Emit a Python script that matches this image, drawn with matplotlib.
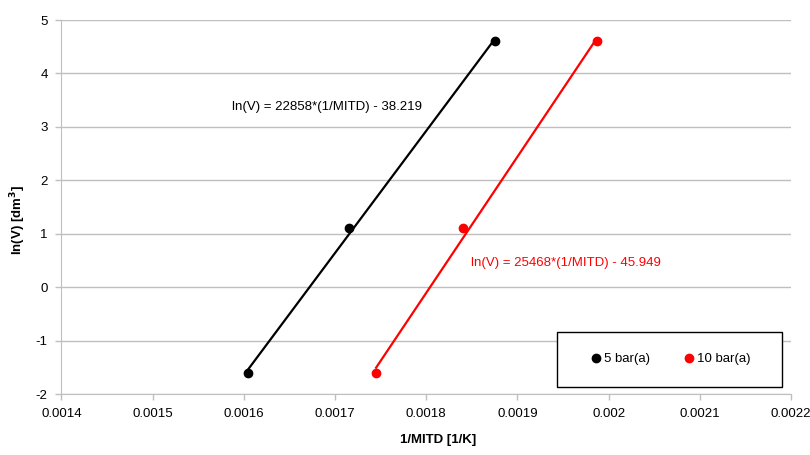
import matplotlib.pyplot as plt
import matplotlib.patches as mpatches
import numpy as np

plt.rcParams['font.family'] = ['Liberation Sans', 'DejaVu Sans']
plt.rcParams['axes.unicode_minus'] = False

# data
x_5bar = [0.001605, 0.0017153, 0.001875]
y_5bar = [-1.609, 1.099, 4.605]
x_10bar = [0.001745, 0.0018408, 0.0019869]
y_10bar = [-1.609, 1.099, 4.605]

fit_5bar = [22858, -38.219]
fit_10bar = [25468, -45.949]

xticks = [0.0014, 0.0015, 0.0016, 0.0017, 0.0018, 0.0019, 0.002, 0.0021, 0.0022]
xtick_labels = ["0.0014", "0.0015", "0.0016", "0.0017", "0.0018", "0.0019", "0.002", "0.0021", "0.0022"]
yticks = [-2, -1, 0, 1, 2, 3, 4, 5]

fig = plt.figure(figsize=(8.1, 4.55), dpi=100)
ax = fig.add_axes([0.0759, 0.134, 0.9006, 0.822])

grey = "#bfbfbf"

# trendlines
for xs, fit, col in [(x_5bar, fit_5bar, "black"), (x_10bar, fit_10bar, "red")]:
    xl = np.array([min(xs), max(xs)])
    ax.plot(xl, fit[0] * xl + fit[1], color=col, lw=1.6, zorder=2)

ax.plot(x_5bar, y_5bar, "o", color="black", ms=6, label="5 bar(a)", zorder=3)
ax.plot(x_10bar, y_10bar, "o", color="red", ms=6, label="10 bar(a)", zorder=3)

ax.set_xlim(0.0014, 0.0022)
ax.set_ylim(-2, 5)
ax.set_xticks(xticks)
ax.set_xticklabels(xtick_labels)
ax.set_yticks(yticks)
ax.yaxis.grid(True, color=grey, lw=1)
ax.set_axisbelow(True)
for s in ["top", "right"]:
    ax.spines[s].set_visible(False)
for s in ["left", "bottom"]:
    ax.spines[s].set_color(grey)
ax.tick_params(colors=grey, labelcolor="black", labelsize=9.5, length=4, width=1)
ax.tick_params(axis="x", pad=6)
ax.tick_params(axis="y", pad=6)

ax.text(0.001691, 3.38, "ln(V) = 22858*(1/MITD) - 38.219", fontsize=9.5,
        ha="center", va="center", color="black")
ax.text(0.001953, 0.45, "ln(V) = 25468*(1/MITD) - 45.949", fontsize=9.5,
        ha="center", va="center", color="red")

fig.text(438 / 810, 1 - 440 / 455, "1/MITD [1/K]", fontsize=9.5, fontweight="bold",
         ha="center", va="center")
fig.text(18 / 810, 1 - 220 / 455, "ln(V) [dm$^\\mathbf{3}$]", fontsize=9.5, fontweight="bold",
         ha="center", va="center", rotation=90)

# legend box
box = mpatches.Rectangle((557 / 810, 1 - 387 / 455), 225 / 810, 55 / 455,
                         transform=fig.transFigure, facecolor="white",
                         edgecolor="black", lw=1, zorder=4, clip_on=False)
ax.add_artist(box)
leg = ax.legend(loc="center", bbox_to_anchor=(670 / 810, 1 - 359 / 455),
                bbox_transform=fig.transFigure, ncol=2, frameon=False,
                fontsize=9.5, handletextpad=0.1, columnspacing=2.5, handlelength=1,
                borderaxespad=0)
leg.set_zorder(5)

fig.savefig("out.png", dpi=100)
